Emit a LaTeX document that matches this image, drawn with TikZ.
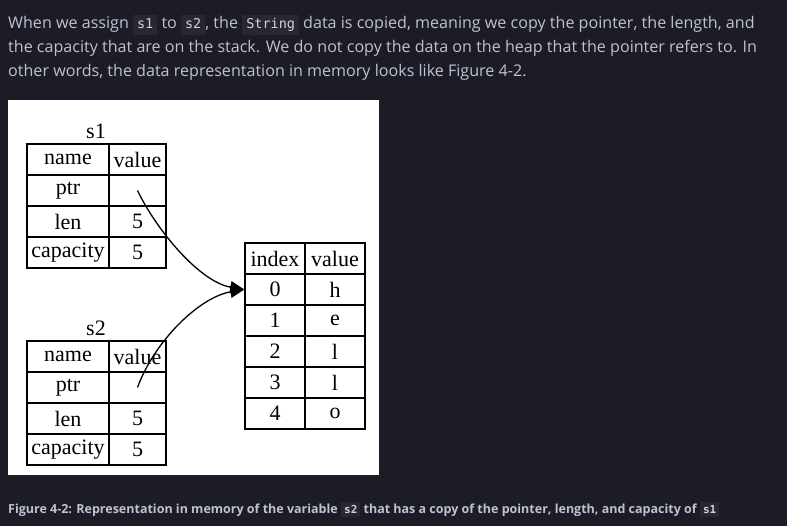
\documentclass[tikz,border=0pt]{standalone}
\usepackage{fontspec}
\setmainfont{Open Sans}
\newfontfamily\serif{Liberation Serif}
\newfontfamily\monof{DejaVu Sans Mono}
\usetikzlibrary{arrows.meta}
\definecolor{pagebg}{HTML}{1B1C25}
\definecolor{pagefg}{HTML}{C0C1D3}
\definecolor{codebg}{HTML}{272832}
\definecolor{codefg}{HTML}{D0D1DC}
\newcommand\codeA[1]{{\setlength\fboxsep{0pt}\colorbox{codebg}{\rule[-6pt]{0pt}{20pt}\kern4pt{\monof\fontsize{13.5}{16}\selectfont\color{codefg}#1}\kern4pt}}}
\newcommand\codeB[1]{{\setlength\fboxsep{0pt}\colorbox{codebg}{\rule[-4pt]{0pt}{15pt}\kern3pt{\monof\fontsize{11}{14}\selectfont\color{codefg}#1}\kern3pt}}}
\tikzset{
  para/.style={anchor=base west, inner sep=0pt, text=pagefg, font=\fontsize{16.1}{20}\selectfont},
  capt/.style={anchor=base west, inner sep=0pt, text=pagefg, font=\bfseries\fontsize{12.5}{16}\selectfont},
  cell/.style={draw=black, line width=1.4pt, fill=white, inner sep=0pt, minimum height=31pt, font=\serif\fontsize{22}{24}\selectfont, text=black},
  ncol/.style={cell, minimum width=82pt},
  vcol/.style={cell, minimum width=57pt},
  hcol/.style={cell, minimum width=60pt},
  lbl/.style={inner sep=0pt, font=\serif\fontsize{22}{24}\selectfont, text=black},
  arr/.style={draw=black, line width=1.3pt, -{Triangle[length=14pt,width=12pt]}}
}
\begin{document}
\begin{tikzpicture}[x=1pt,y=-1pt]
\useasboundingbox (0,0) rectangle (787,526);
\fill[pagebg] (0,0) rectangle (787,526);
% paragraph
\node[para] (p1) at (8,29) {When we assign \codeA{s1} to \codeA{s2}, the \codeA{String} data is copied, meaning we copy the pointer, the length, and};
\node[para] (p2) at (8,53) {the capacity that are on the stack. We do not copy the data on the heap that the pointer refers to. In};
\node[para] (p3) at (8,77) {other words, the data representation in memory looks like Figure 4-2.};
% figure area
\fill[white] (8,100) rectangle (379,475);
% s1 table
\node[lbl] (s1) at (96,131) {s1};
\node[ncol] (s1n0) at (68,159.5) {name};
\node[vcol] (s1v0) at (137.5,159.5) {value};
\node[ncol] (s1n1) at (68,190.5) {ptr};
\node[vcol] (s1v1) at (137.5,190.5) {};
\node[ncol] (s1n2) at (68,221.5) {len};
\node[vcol] (s1v2) at (137.5,221.5) {5};
\node[ncol] (s1n3) at (68,252.5) {capacity};
\node[vcol] (s1v3) at (137.5,252.5) {5};
% s2 table
\node[lbl] (s2) at (96,328) {s2};
\node[ncol] (s2n0) at (68,356.5) {name};
\node[vcol] (s2v0) at (137.5,356.5) {value};
\node[ncol] (s2n1) at (68,387.5) {ptr};
\node[vcol] (s2v1) at (137.5,387.5) {};
\node[ncol] (s2n2) at (68,418.5) {len};
\node[vcol] (s2v2) at (137.5,418.5) {5};
\node[ncol] (s2n3) at (68,449.5) {capacity};
\node[vcol] (s2v3) at (137.5,449.5) {5};
% heap table
\node[hcol] (hi) at (275,258.5) {index};
\node[hcol] (hv) at (335,258.5) {value};
\node[hcol] (h0i) at (275,289.5) {0};
\node[hcol] (h0v) at (335,289.5) {h};
\node[hcol] (h1i) at (275,320.5) {1};
\node[hcol] (h1v) at (335,320.5) {e};
\node[hcol] (h2i) at (275,351.5) {2};
\node[hcol] (h2v) at (335,351.5) {l};
\node[hcol] (h3i) at (275,382.5) {3};
\node[hcol] (h3v) at (335,382.5) {l};
\node[hcol] (h4i) at (275,413.5) {4};
\node[hcol] (h4v) at (335,413.5) {o};
% pointers
\draw[arr] (s1v1.center) .. controls (157,231) and (200,282) .. (h0i.west);
\draw[arr] (s2v1.center) .. controls (155,340) and (200,297) .. (h0i.west);
% caption
\node[capt] (cap) at (8,513) {Figure 4-2: Representation in memory of the variable \codeB{s2} that has a copy of the pointer, length, and capacity of \codeB{s1}};
\end{tikzpicture}
\end{document}
